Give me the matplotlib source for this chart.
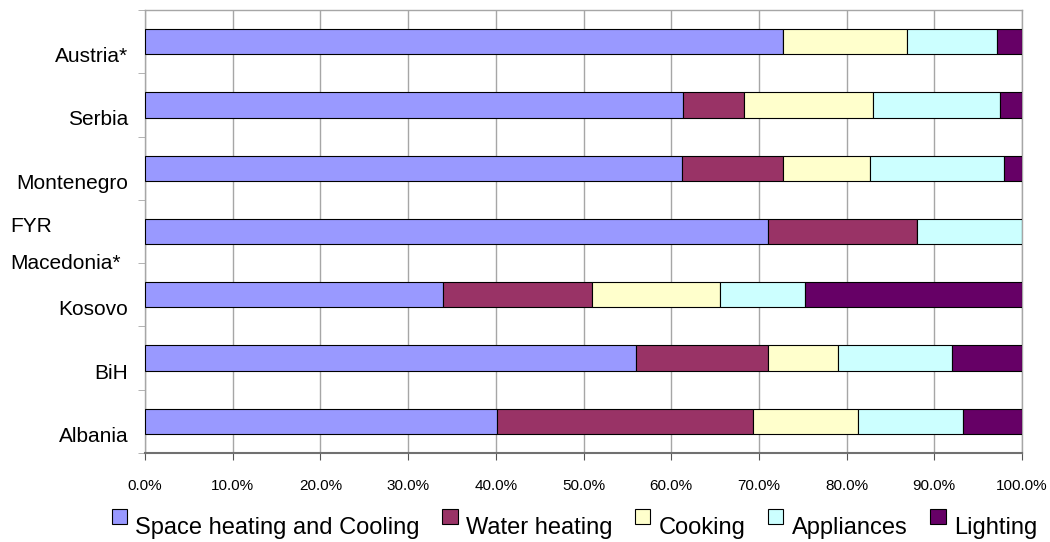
import matplotlib.pyplot as plt
import matplotlib.patches as mpatches
from matplotlib.legend_handler import HandlerPatch
from matplotlib.transforms import ScaledTranslation
import numpy as np

plt.rcParams['font.family'] = ['Liberation Sans', 'DejaVu Sans']

# Countries, listed bottom to top as in the chart
countries = ['Albania', 'BiH', 'Kosovo', 'FYR\nMacedonia*', 'Montenegro', 'Serbia', 'Austria*']

# Share of household energy use per end use (%)
space_heating = [40.1, 56.0, 34.0, 71.0, 61.2, 61.3, 72.7]
water_heating = [29.2, 15.0, 17.0, 17.0, 11.5, 7.0, 0.0]
cooking = [12.0, 8.0, 14.6, 0.0, 10.0, 14.7, 14.2]
appliances = [12.0, 13.0, 9.7, 12.0, 15.3, 14.5, 10.3]
lighting = [6.7, 8.0, 24.7, 0.0, 2.0, 2.5, 2.8]

series_names = ['Space heating and Cooling', 'Water heating', 'Cooking', 'Appliances', 'Lighting']
series_colors = ['#9999FF', '#993366', '#FFFFCC', '#CCFFFF', '#660066']
x_ticks = [0, 10, 20, 30, 40, 50, 60, 70, 80, 90, 100]

fig = plt.figure(figsize=(10.5, 5.42), dpi=100)
ax = fig.add_axes([145 / 1050, 1 - 453 / 542, (1022 - 145) / 1050, (453 - 10) / 542])

y = np.arange(len(countries))
left = np.zeros(len(countries))
handles = []
for vals, name, col in zip([space_heating, water_heating, cooking, appliances, lighting],
                           series_names, series_colors):
    vals = np.array(vals)
    ax.barh(y, vals, left=left, height=0.4, color=col, edgecolor='black',
            linewidth=0.8, zorder=3)
    left += vals
    handles.append(mpatches.Patch(facecolor=col, edgecolor='black', linewidth=0.8, label=name))

ax.set_xlim(0, 100)
ax.set_ylim(-0.5, len(countries) - 0.5)

# x axis
ax.set_xticks(x_ticks)
ax.set_xticklabels([f'{v:.1f}%' for v in x_ticks], fontsize=11)
ax.tick_params(axis='x', direction='out', length=5, color='#555555', pad=14)
ax.grid(axis='x', color='#A6A6A6', linewidth=1, zorder=0)

# y axis: labels at centres (shifted down like the original), ticks at boundaries
ax.set_yticks(y)
ax.set_yticklabels(countries, fontsize=15)
ax.set_yticks(np.arange(-0.5, len(countries), 1), minor=True)
ax.tick_params(axis='y', which='major', length=0, pad=12)
ax.tick_params(axis='y', which='minor', direction='out', length=5, color='#A6A6A6')
for lbl in ax.get_yticklabels():
    dx, dy = 0, -13 / 100
    if lbl.get_text().startswith('FYR'):
        lbl.set_multialignment('left')
        lbl.set_linespacing(2.15)
        dx, dy = -8 / 100, -3 / 100
    lbl.set_transform(lbl.get_transform() + ScaledTranslation(dx, dy, fig.dpi_scale_trans))

for side in ['top', 'right', 'left']:
    ax.spines[side].set_color('#A6A6A6')
    ax.spines[side].set_linewidth(1)
ax.spines['bottom'].set_color('#707070')
ax.spines['bottom'].set_linewidth(1.5)


def raised_box(legend, orig_handle, xdescent, ydescent, width, height, fontsize):
    return mpatches.Rectangle((-xdescent, -ydescent + 6.5), width, height)


fig.legend(handles=handles, loc='center', bbox_to_anchor=(0.547, 0.026), ncol=5,
           frameon=False, fontsize=17, handlelength=0.64, handleheight=0.64,
           handletextpad=0.35, columnspacing=0.97, borderpad=0,
           handler_map={mpatches.Patch: HandlerPatch(patch_func=raised_box)})

fig.savefig('out.png', dpi=100)
